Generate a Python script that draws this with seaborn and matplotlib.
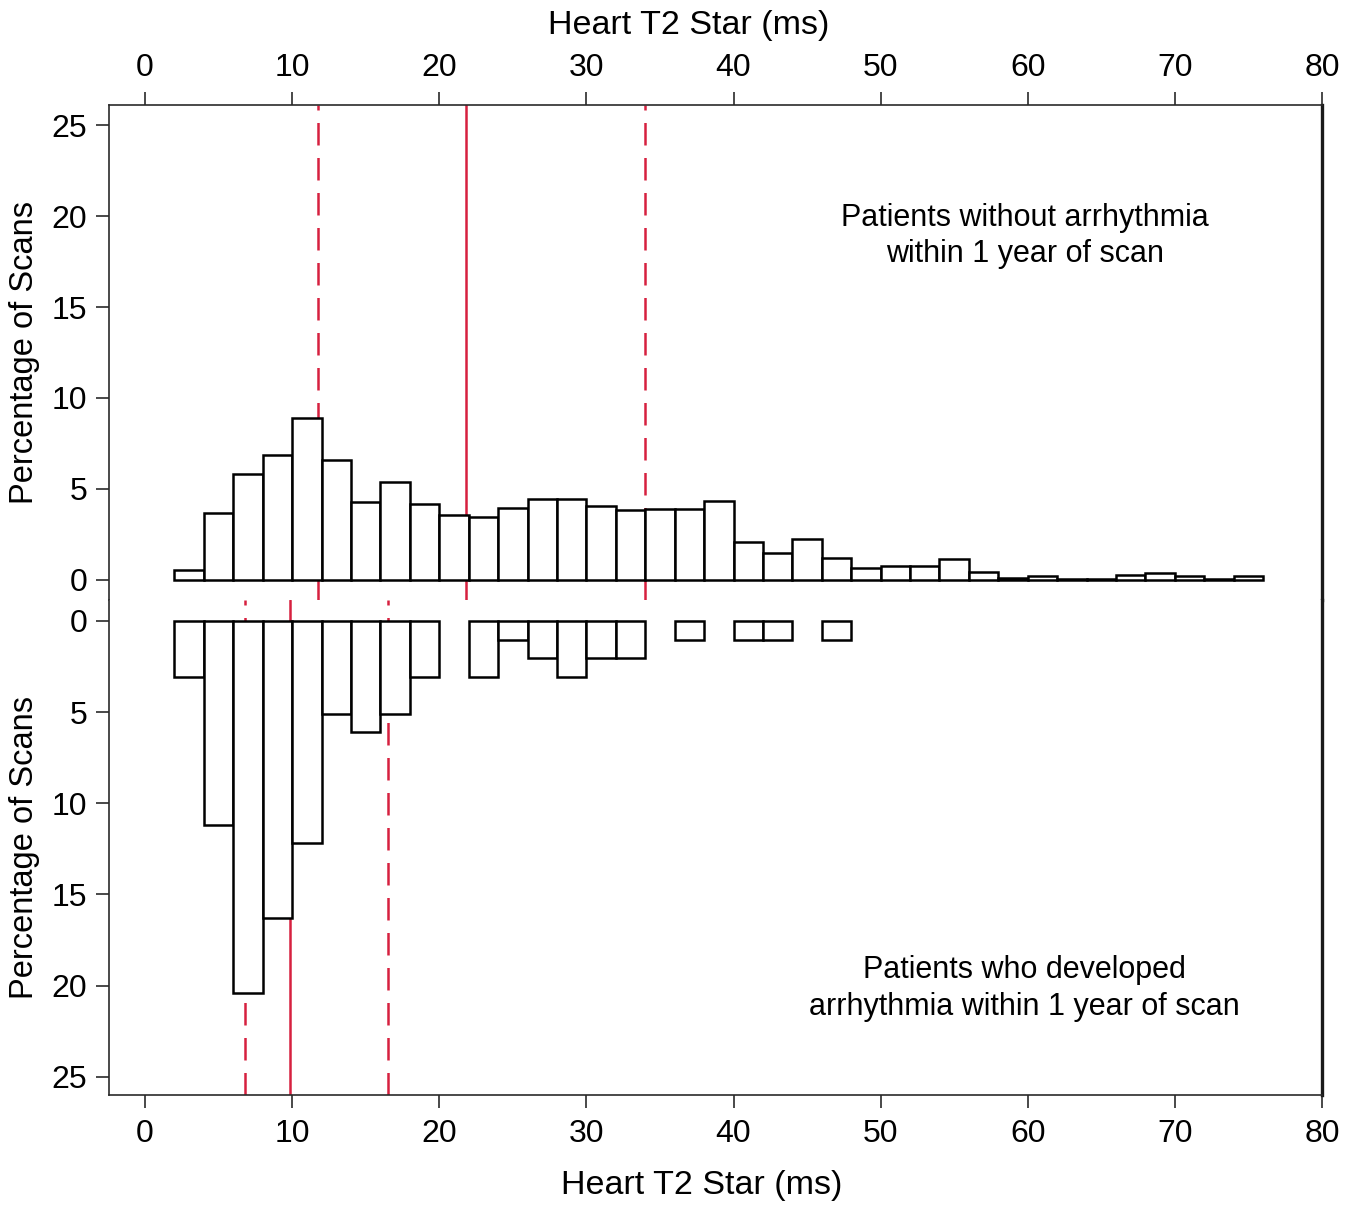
import numpy as np
import pandas as pd
import matplotlib
matplotlib.use("Agg")
import matplotlib.pyplot as plt
import seaborn as sns

# ---------------- data ----------------
bin_width = 2
top_bin_left = [2, 4, 6, 8, 10, 12, 14, 16, 18, 20, 22, 24, 26, 28, 30, 32, 34, 36, 38,
                40, 42, 44, 46, 48, 50, 52, 54, 56, 58, 60, 62, 64, 66, 68, 70, 72, 74]
top_pct = [0.57, 3.7, 5.8, 6.85, 8.9, 6.57, 4.3, 5.4, 4.2, 3.55, 3.46, 3.93, 4.43, 4.43,
           4.07, 3.83, 3.88, 3.88, 4.32, 2.1, 1.47, 2.27, 1.21, 0.68, 0.79, 0.79, 1.17,
           0.44, 0.12, 0.22, 0.05, 0.05, 0.28, 0.38, 0.22, 0.08, 0.22]

bot_bin_left = [2, 4, 6, 8, 10, 12, 14, 16, 18, 20, 22, 24, 26, 28, 30, 32, 34, 36, 38,
                40, 42, 44, 46]
bot_pct = [3.06, 11.2, 20.4, 16.3, 12.2, 5.1, 6.1, 5.1, 3.06, 0, 3.06, 1.02, 2.04, 3.06,
           2.04, 2.04, 0, 1.02, 0, 1.02, 1.02, 0, 1.02]

top_median = 21.8
top_quartiles = [11.75, 34.0]
bot_median = 9.85
bot_quartiles = [6.8, 16.5]

x_ticks = [0, 10, 20, 30, 40, 50, 60, 70, 80]
y_ticks = [0, 5, 10, 15, 20, 25]

top_label = "Patients without arrhythmia\nwithin 1 year of scan"
bot_label = "Patients who developed\narrhythmia within 1 year of scan"
x_title = "Heart T2 Star (ms)"
y_title = "Percentage of Scans"

# ---------------- style ----------------
sns.set_theme(style="ticks")
plt.rcParams["font.family"] = ["Liberation Sans", "DejaVu Sans"]
frame_col = "#2a2a2a"
red = "#d6203f"
plt.rcParams.update({
    "text.color": "black",
    "axes.labelcolor": "black",
    "axes.edgecolor": frame_col,
    "axes.linewidth": 1.2,
    "xtick.color": frame_col,
    "ytick.color": frame_col,
    "xtick.labelcolor": "black",
    "ytick.labelcolor": "black",
    "xtick.major.size": 9.5,
    "ytick.major.size": 9.5,
    "xtick.major.width": 1.2,
    "ytick.major.width": 1.2,
    "xtick.labelsize": 23,
    "ytick.labelsize": 23,
})

fig = plt.figure(figsize=(13.64, 12.07), dpi=100)
L, R = 109 / 1364, 1322 / 1364
ax_top = fig.add_axes([L, 1 - 600 / 1207, R - L, (600 - 105) / 1207])
ax_bot = fig.add_axes([L, 1 - 1095 / 1207, R - L, (1095 - 600) / 1207])

top_df = pd.DataFrame({"x": [b + bin_width / 2 for b in top_bin_left], "w": top_pct})
bot_df = pd.DataFrame({"x": [b + bin_width / 2 for b in bot_bin_left], "w": bot_pct})
top_range = (top_bin_left[0], top_bin_left[-1] + bin_width)
bot_range = (bot_bin_left[0], bot_bin_left[-1] + bin_width)

hist_kw = dict(color="white", edgecolor="black", linewidth=1.8, alpha=1, stat="count")
sns.histplot(data=top_df, x="x", weights="w", binwidth=bin_width, binrange=top_range,
             ax=ax_top, **hist_kw)
sns.histplot(data=bot_df, x="x", weights="w", binwidth=bin_width, binrange=bot_range,
             ax=ax_bot, **hist_kw)
for p in ax_bot.patches:
    if p.get_height() == 0:
        p.set_visible(False)

# reference lines
dash = (9, 5)
ax_top.axvline(top_median, color=red, lw=1.8, zorder=0.5)
for q in top_quartiles:
    ax_top.axvline(q, color=red, lw=1.8, dashes=dash, zorder=0.5)
ax_bot.axvline(bot_median, color=red, lw=1.8, zorder=0.5)
for q in bot_quartiles:
    ax_bot.axvline(q, color=red, lw=1.8, dashes=dash, zorder=0.5)

# axes limits and ticks
for ax in (ax_top, ax_bot):
    ax.set_xlim(-2.45, 80)
    ax.set_xticks(x_ticks)
    ax.set_yticks(y_ticks)
    ax.set_ylabel(y_title, fontsize=23.5, labelpad=8.5)
    ax.spines["right"].set_linewidth(2.4)
    ax.spines["right"].set_color("#1a1a1a")
    ax.tick_params(axis="y", pad=6)

ax_top.set_ylim(-1.1, 26.1)
ax_bot.set_ylim(26.0, -1.15)

ax_top.spines["bottom"].set_visible(False)
ax_top.xaxis.tick_top()
ax_top.xaxis.set_label_position("top")
ax_top.tick_params(axis="x", bottom=False, top=True, pad=6)
ax_top.set_xlabel(x_title, fontsize=24.5, labelpad=14)
ax_top.xaxis.label.set_x(0.478)

ax_bot.spines["top"].set_visible(False)
ax_bot.tick_params(axis="x", pad=8)
ax_bot.set_xlabel(x_title, fontsize=24.5, labelpad=15)
ax_bot.xaxis.label.set_x(0.489)

ax_top.text(59.8, 18.9, top_label, ha="center", va="center", fontsize=22,
            linespacing=1.3)
ax_bot.text(59.8, 20.15, bot_label, ha="center", va="center", fontsize=22,
            linespacing=1.3)

fig.savefig("out.png", dpi=100, facecolor="white")
